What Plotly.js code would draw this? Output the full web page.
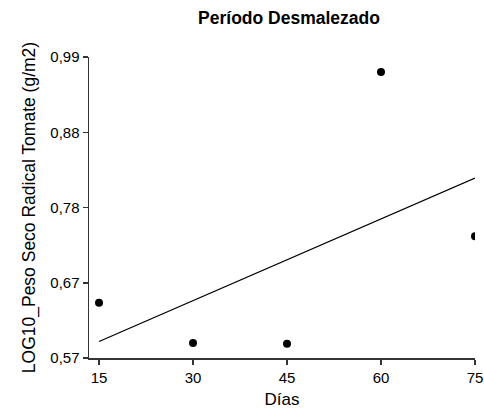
<!DOCTYPE html>
<html><head><meta charset="utf-8">
<script src="https://cdn.plot.ly/plotly-3.0.1.min.js"></script>
<style>body{margin:0}#c{width:484px;height:411px}</style>
</head><body><div id="c"></div>
<script>
const dias = [15, 30, 45, 60, 75];
const pesoLog = [0.647, 0.591, 0.590, 0.969, 0.740];
const fitX = [15, 75];
const fitY = [0.593, 0.821];
const yTickVals = [0.57, 0.675, 0.78, 0.885, 0.99];
const yTickText = ["0,57", "0,67", "0,78", "0,88", "0,99"];
const xTickVals = [15, 30, 45, 60, 75];

const traces = [
  {x: fitX, y: fitY, mode: 'lines', line: {color: '#000', width: 1.3}, hoverinfo: 'skip'},
  {x: dias, y: pesoLog, mode: 'markers', marker: {color: '#000', size: 8}}
];
const layout = {
  width: 484, height: 411,
  margin: {l: 89, r: 9, t: 57, b: 53},
  showlegend: false,
  separators: ',.',
  paper_bgcolor: '#fff', plot_bgcolor: '#fff',
  font: {family: 'Liberation Sans, Arial, sans-serif', color: '#000'},
  title: {text: '<b>Período Desmalezado</b>', x: 289/484, xanchor: 'center', y: 1 - 18/411, yanchor: 'middle',
          font: {size: 17.5, color: '#000'}},
  xaxis: {range: [13.4, 75], tickvals: xTickVals, ticks: 'outside', ticklen: 5, tickwidth: 1.5, tickcolor: '#333',
          showline: true, linecolor: '#333', linewidth: 1.5, showgrid: false, zeroline: false,
          tickfont: {size: 15}, title: {text: 'Días', font: {size: 17}, standoff: 8}},
  yaxis: {range: [0.57, 0.99], tickvals: yTickVals, ticktext: yTickText, ticks: 'outside', ticklen: 5, tickwidth: 1.5, tickcolor: '#333',
          showline: true, linecolor: '#333', linewidth: 1.5, showgrid: false, zeroline: false,
          tickfont: {size: 15}, title: {text: 'LOG10_Peso Seco Radical Tomate (g/m2)', font: {size: 17.5}, standoff: 10}}
};
Plotly.newPlot('c', traces, layout, {staticPlot: true});
</script></body></html>
